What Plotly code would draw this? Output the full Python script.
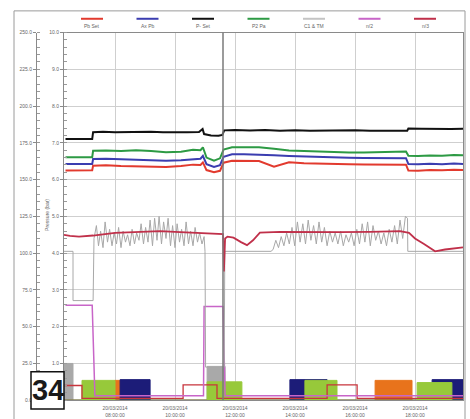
import plotly.graph_objects as go

W, H = 470, 419

# ---------------- data ----------------
series_names = ["Pb Set", "Ax Pb", "P- Set", "P2 Pa", "C1 & TM", "n/2", "n/3"]
series_colors = ["#e23a2e", "#3b3db0", "#111111", "#2d9a44", "#c4c4c4", "#c865c8", "#c0304a"]

tick_hours = [0, 2, 4, 6, 8, 10]
tick_labels = ["20/03/2014<br>08:00:00", "20/03/2014<br>10:00:00", "20/03/2014<br>12:00:00",
               "20/03/2014<br>14:00:00", "20/03/2014<br>16:00:00", "20/03/2014<br>18:00:00"]
x_range = [-1.70, 11.6]
cursor_time = 3.6

inner_ticks = [1, 2, 3, 4, 5, 6, 7, 8, 9, 10]
outer_ticks = [0, 25, 50, 75, 100, 125, 150, 175, 200, 225, 250]

# pressure lines (outer scale, bar)
t_black = [-1.65, -1.2, -0.76, -0.73, -0.4, 0.0, 0.4, 0.8, 1.2, 1.6, 2.0, 2.4, 2.8, 2.92, 2.97,
           3.2, 3.45, 3.58, 3.64, 4.0, 4.5, 5.0, 5.5, 6.0, 6.5, 7.0, 7.5, 8.0, 8.5, 9.0, 9.5,
           9.74, 9.78, 10.2, 10.7, 11.2, 11.6]
v_black = [177.6, 177.4, 177.6, 182.3, 182.6, 182.2, 182.5, 182.3, 182.6, 182.2, 182.5, 182.3,
           182.4, 184.5, 181.0, 180.0, 179.8, 180.4, 183.5, 183.8, 183.4, 183.7, 183.3, 183.6,
           183.2, 183.5, 183.3, 183.6, 183.2, 183.5, 183.3, 183.2, 184.8, 184.6, 184.8, 184.5, 184.6]

t_press = [-1.65, -1.2, -0.76, -0.73, -0.3, 0.2, 0.7, 1.2, 1.7, 2.2, 2.6, 2.85, 2.93, 3.05, 3.3,
           3.5, 3.62, 3.9, 4.3, 4.8, 5.3, 5.8, 6.3, 6.8, 7.3, 7.8, 8.3, 8.8, 9.3, 9.7, 9.78, 10.1,
           10.5, 10.9, 11.3, 11.6]
v_green = [165.2, 165.0, 165.3, 169.6, 169.8, 169.5, 169.9, 169.4, 168.6, 169.0, 170.3, 170.0,
           172.0, 165.0, 162.9, 164.5, 170.5, 172.0, 172.2, 172.0, 171.0, 169.8, 169.5, 169.0,
           168.8, 168.5, 168.4, 168.8, 169.0, 169.2, 166.2, 166.0, 166.4, 166.2, 166.7, 166.5]
v_blue = [160.6, 160.4, 160.7, 164.0, 164.2, 163.8, 163.5, 163.0, 162.8, 163.2, 164.0, 164.2,
          166.2, 160.5, 158.6, 159.8, 165.5, 167.3, 167.2, 167.0, 166.5, 166.0, 165.6, 165.2,
          165.0, 164.9, 164.7, 164.8, 164.6, 164.6, 160.6, 160.4, 160.8, 160.5, 160.9, 160.7]
v_red = [156.2, 156.0, 156.3, 159.5, 159.7, 159.2, 159.0, 158.8, 158.6, 159.2, 160.2, 160.0,
         161.7, 156.5, 155.0, 156.0, 161.5, 162.9, 162.8, 162.6, 158.8, 161.8, 161.2, 160.8,
         160.6, 160.5, 160.3, 160.4, 160.2, 160.2, 156.2, 156.0, 156.5, 156.3, 156.8, 156.6]

# C1 & TM (inner scale)
t_gray = [-1.70, -1.40, -1.40, -0.73,
          -0.70, -0.62, -0.55, -0.48, -0.40, -0.33, -0.25, -0.18, -0.10, -0.03, 0.05, 0.12, 0.20,
          0.27, 0.35, 0.42, 0.50, 0.57, 0.65, 0.72, 0.80, 0.87, 0.95, 1.02, 1.10, 1.17, 1.25, 1.32,
          1.40, 1.47, 1.55, 1.62, 1.70, 1.77, 1.85, 1.92, 2.00, 2.07, 2.15, 2.22, 2.30, 2.37, 2.45,
          2.52, 2.60, 2.67, 2.75, 2.82, 2.90, 2.97,
          3.00, 3.02, 3.64, 3.66, 5.20,
          5.27, 5.36, 5.45, 5.54, 5.63, 5.72, 5.81, 5.90, 5.99, 6.08, 6.17, 6.26, 6.35, 6.44, 6.53,
          6.62, 6.71, 6.80, 6.89, 6.98, 7.07, 7.16, 7.25, 7.34, 7.43, 7.52, 7.61, 7.70, 7.79, 7.88,
          7.97, 8.06, 8.15, 8.24, 8.33, 8.42, 8.51, 8.60, 8.69, 8.78, 8.87, 8.96, 9.05, 9.14, 9.23,
          9.32, 9.41, 9.50, 9.59, 9.68, 9.75,
          9.76, 11.6]
v_gray = [4.05, 4.05, 2.71, 2.71,
          4.40, 4.75, 4.20, 4.60, 4.15, 4.85, 4.30, 4.65, 4.20, 4.55, 4.25, 4.70, 4.15, 4.60, 4.30,
          4.50, 4.20, 4.65, 4.25, 4.55, 4.35, 4.80, 4.25, 4.70, 4.30, 4.90, 4.20, 4.95, 4.35, 5.00,
          4.25, 4.85, 4.40, 4.95, 4.20, 4.75, 4.15, 4.80, 4.30, 4.65, 4.20, 4.85, 4.25, 4.60, 4.20,
          4.70, 4.30, 4.55, 4.25, 4.45,
          4.05, 0.90, 0.90, 4.05, 4.05,
          4.10, 4.35, 4.15, 4.45, 4.20, 4.55, 4.25, 4.70, 4.20, 4.85, 4.30, 4.80, 4.25, 4.90, 4.35,
          4.75, 4.25, 4.85, 4.30, 4.70, 4.20, 4.60, 4.30, 4.55, 4.25, 4.60, 4.20, 4.50, 4.30, 4.55,
          4.20, 4.65, 4.25, 4.80, 4.30, 4.85, 4.20, 4.75, 4.35, 4.60, 4.25, 4.55, 4.20, 4.65, 4.30,
          4.75, 4.25, 4.90, 4.40, 5.00, 4.95,
          4.05, 4.05]

# n/3 (inner scale)
t_n3 = [-1.70, -1.5, -1.2, -0.73, 0.0, 1.0, 1.5, 2.0, 2.9, 3.5, 3.6, 3.63, 3.67, 3.75, 3.95, 4.2,
        4.4, 4.6, 4.83, 5.5, 6.5, 7.5, 8.5, 9.5, 9.8, 10.0, 10.3, 10.67, 11.0, 11.3, 11.6]
v_n3 = [4.50, 4.47, 4.45, 4.48, 4.55, 4.58, 4.60, 4.58, 4.55, 4.53, 4.52, 3.50, 4.40, 4.45, 4.42,
        4.30, 4.22, 4.35, 4.56, 4.58, 4.57, 4.57, 4.58, 4.60, 4.55, 4.40, 4.25, 4.05, 4.10, 4.13, 4.16]

# n/2 (inner scale)
t_n2 = [-1.65, -0.76, -0.67, 2.95, 2.97, 3.60, 3.67, 11.6]
v_n2 = [2.58, 2.58, 0.12, 0.12, 2.55, 2.55, 0.12, 0.12]

# bottom state signals (inner scale, step)
t_grayblk = [-1.7, -1.4, 3.07, 3.67, 11.6]
v_grayblk = [1.0, 0.0, 0.92, 0.0, 0.0]
t_orange = [-1.7, 0.0, 0.23, 8.67, 9.90, 11.6]
v_orange = [0.0, 0.54, 0.0, 0.54, 0.0, 0.0]
t_navy = [-1.7, 0.17, 1.17, 5.83, 7.07, 10.57, 11.6]
v_navy = [0.0, 0.56, 0.0, 0.56, 0.0, 0.56, 0.56]
t_lgreen = [-1.7, -1.1, 0.0, 3.07, 4.23, 6.33, 7.40, 10.07, 11.23, 11.6]
v_lgreen = [0.0, 0.54, 0.0, 0.50, 0.0, 0.54, 0.0, 0.48, 0.0, 0.0]
t_redstep = [-1.7, -1.1, 2.27, 3.4, 7.07, 8.07, 11.6]
v_redstep = [0.40, 0.05, 0.42, 0.05, 0.42, 0.05, 0.05]

# ---------------- figure ----------------
def px(x):
    return x / W

def py(y):
    return 1 - y / H

fig = go.Figure()

def step(t, v, color, fill=True, width=1):
    fig.add_trace(go.Scatter(x=t, y=v, mode="lines", line=dict(color=color, width=width, shape="hv"),
                             fill="tozeroy" if fill else None, fillcolor=color, showlegend=False,
                             hoverinfo="skip"))

step(t_grayblk, v_grayblk, "#a9a9a9")
step(t_orange, v_orange, "#e8731c")
step(t_navy, v_navy, "#1c1c78")
step(t_lgreen, v_lgreen, "#97c93a")
step(t_redstep, v_redstep, "#c8343c", fill=False, width=1.3)

fig.add_trace(go.Scatter(x=t_n2, y=v_n2, mode="lines", line=dict(color=series_colors[5], width=1.5),
                         showlegend=False))
fig.add_trace(go.Scatter(x=t_gray, y=v_gray, mode="lines", line=dict(color="#a8a8a8", width=1),
                         showlegend=False))
fig.add_trace(go.Scatter(x=t_n3, y=v_n3, mode="lines", line=dict(color=series_colors[6], width=1.8),
                         showlegend=False))
for t, v, c in [(t_press, v_green, series_colors[3]), (t_press, v_blue, series_colors[1]),
                (t_press, v_red, series_colors[0]), (t_black, v_black, series_colors[2])]:
    fig.add_trace(go.Scatter(x=t, y=v, mode="lines", line=dict(color=c, width=2), yaxis="y2",
                             showlegend=False))

tickfont = dict(family="Liberation Sans, Arial", size=5, color="#666666")
fig.update_layout(
    width=W, height=H, margin=dict(l=0, r=0, t=0, b=0),
    paper_bgcolor="white", plot_bgcolor="white", showlegend=False,
    xaxis=dict(domain=[px(64), px(463)], range=x_range, tickvals=tick_hours, ticktext=tick_labels,
               showgrid=True, gridcolor="#cfcfcf", gridwidth=1, zeroline=False,
               showline=True, linecolor="#8a8a8a", mirror=True, ticks="outside", ticklen=3,
               tickcolor="rgba(0,0,0,0)", tickfont=tickfont),
    yaxis=dict(domain=[py(403), py(30)], range=[0, 10], tickvals=inner_ticks, tickformat=".1f",
               showgrid=True, gridcolor="#cfcfcf", zeroline=False, showline=True,
               linecolor="#8a8a8a", mirror=True, ticks="outside", ticklen=3, tickcolor="#8a8a8a",
               minor=dict(dtick=0.2, ticks="inside", ticklen=3, tickcolor="#9a9a9a", showgrid=False),
               tickfont=tickfont),
    yaxis2=dict(overlaying="y", anchor="free", position=px(36), side="left", range=[0, 250],
                tickvals=outer_ticks, tickformat=".1f", showgrid=False, zeroline=False,
                showline=True, linecolor="#8a8a8a", ticks="outside", ticklen=3, tickcolor="#8a8a8a",
                minor=dict(dtick=5, ticks="inside", ticklen=3, tickcolor="#9a9a9a", showgrid=False),
                tickfont=tickfont),
)

shapes = []
annotations = []
# outer frame
shapes.append(dict(type="rect", xref="paper", yref="paper", x0=px(14), x1=px(465), y0=py(425), y1=py(8),
                   line=dict(color="#9a9a9a", width=1), fillcolor="rgba(0,0,0,0)", layer="below"))
# cursor line
shapes.append(dict(type="line", xref="x", yref="paper", x0=cursor_time, x1=cursor_time,
                   y0=py(403), y1=py(30), line=dict(color="#7a7a7a", width=1.5)))
# legend drawn along the top
for i, (name, col) in enumerate(zip(series_names, series_colors)):
    cx = 92 + 55.5 * i
    shapes.append(dict(type="line", xref="paper", yref="paper", x0=px(cx - 11), x1=px(cx + 11),
                       y0=py(16), y1=py(16), line=dict(color=col, width=2)))
    annotations.append(dict(xref="paper", yref="paper", x=px(cx), y=py(23), text=name, showarrow=False,
                            font=dict(family="Liberation Sans, Arial", size=5, color="#666666"),
                            xanchor="center", yanchor="middle"))
# axis title between the two axes
annotations.append(dict(xref="paper", yref="paper", x=px(42), y=py(215), text="Pressure (bar)",
                        textangle=-90, showarrow=False,
                        font=dict(family="Liberation Sans, Arial", size=5, color="#666666")))
# figure number badge
shapes.append(dict(type="rect", xref="paper", yref="paper", x0=px(31), x1=px(64), y0=py(412), y1=py(374),
                   line=dict(color="#111111", width=1.5), fillcolor="white", layer="above"))
annotations.append(dict(xref="paper", yref="paper", x=px(47.5), y=py(393), text="<b>34</b>", showarrow=False,
                        font=dict(family="Liberation Sans, Arial", size=29, color="#1a1a1a"),
                        xanchor="center", yanchor="middle"))

fig.update_layout(shapes=shapes, annotations=annotations)
fig.write_html("out.html")
